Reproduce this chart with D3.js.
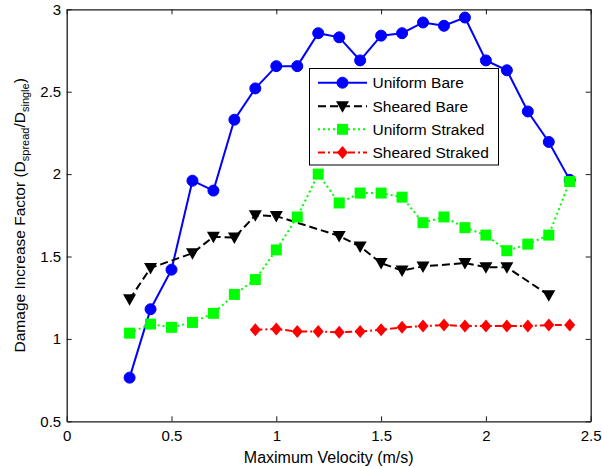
<!DOCTYPE html>
<html>
<head>
<meta charset="utf-8">
<script src="https://cdn.jsdelivr.net/npm/d3@7"></script>
<style>
  html, body { margin: 0; padding: 0; background: #fff; }
  svg text { font-family: "Liberation Sans", Arial, sans-serif; fill: #000; }
</style>
</head>
<body>
<svg id="chart" width="602" height="467"></svg>
<script>
// Damage increase factor vs. maximum velocity for four riser configurations
const xTicks = [0, 0.5, 1, 1.5, 2, 2.5];
const yTicks = [0.5, 1, 1.5, 2, 2.5, 3];

const uniformBareX = [0.3, 0.4, 0.5, 0.6, 0.7, 0.8, 0.9, 1.0, 1.1, 1.2, 1.3, 1.4, 1.5, 1.6, 1.7, 1.8, 1.9, 2.0, 2.1, 2.2, 2.3, 2.4];
const uniformBareY = [0.765, 1.18, 1.42, 1.96, 1.90, 2.33, 2.52, 2.655, 2.655, 2.855, 2.83, 2.69, 2.84, 2.855, 2.92, 2.90, 2.95, 2.69, 2.63, 2.38, 2.195, 1.965];

const shearedBareX = [0.3, 0.4, 0.6, 0.7, 0.8, 0.9, 1.0, 1.3, 1.4, 1.5, 1.6, 1.7, 1.9, 2.0, 2.1, 2.3];
const shearedBareY = [1.24, 1.43, 1.52, 1.62, 1.615, 1.75, 1.745, 1.625, 1.56, 1.46, 1.415, 1.44, 1.46, 1.435, 1.435, 1.265];

const uniformStrakedX = [0.3, 0.4, 0.5, 0.6, 0.7, 0.8, 0.9, 1.0, 1.1, 1.2, 1.3, 1.4, 1.5, 1.6, 1.7, 1.8, 1.9, 2.0, 2.1, 2.2, 2.3, 2.4];
const uniformStrakedY = [1.035, 1.09, 1.07, 1.10, 1.155, 1.27, 1.36, 1.54, 1.74, 2.0, 1.825, 1.885, 1.885, 1.86, 1.705, 1.74, 1.675, 1.63, 1.535, 1.575, 1.63, 1.955];

const shearedStrakedX = [0.9, 1.0, 1.1, 1.2, 1.3, 1.4, 1.5, 1.6, 1.7, 1.8, 1.9, 2.0, 2.1, 2.2, 2.3, 2.4];
const shearedStrakedY = [1.055, 1.06, 1.045, 1.045, 1.04, 1.045, 1.055, 1.07, 1.078, 1.084, 1.078, 1.078, 1.078, 1.078, 1.084, 1.084];

const seriesNames = ["Uniform Bare", "Sheared Bare", "Uniform Straked", "Sheared Straked"];

const series = [
  { name: seriesNames[0], xs: uniformBareX, ys: uniformBareY, color: "#0000ff", dash: null, marker: "circle" },
  { name: seriesNames[1], xs: shearedBareX, ys: shearedBareY, color: "#000000", dash: "8,4", marker: "triangle" },
  { name: seriesNames[2], xs: uniformStrakedX, ys: uniformStrakedY, color: "#00ff00", dash: "2,3", marker: "square" },
  { name: seriesNames[3], xs: shearedStrakedX, ys: shearedStrakedY, color: "#ff0000", dash: "7,3,2,3", marker: "diamond" }
];

const svg = d3.select("#chart");
const margin = { left: 66.7, right: 602 - 590.7, top: 9.3, bottom: 467 - 421.3 };
const W = 602 - margin.left - margin.right;
const H = 467 - margin.top - margin.bottom;

const x = d3.scaleLinear().domain([0, 2.5]).range([margin.left, margin.left + W]);
const y = d3.scaleLinear().domain([0.5, 3]).range([margin.top + H, margin.top]);

const tickLen = 5;
const tickFont = 15;
const labelFont = 16;
const legendFont = 15.5;

// axes with inward ticks on all four sides
const axBottom = svg.append("g").attr("transform", `translate(0,${y(0.5)})`)
  .call(d3.axisBottom(x).tickValues(xTicks).tickFormat(d3.format("")).tickSizeInner(-tickLen).tickSizeOuter(0).tickPadding(9.5));
const axTop = svg.append("g").attr("transform", `translate(0,${y(3)})`)
  .call(d3.axisTop(x).tickValues(xTicks).tickFormat("").tickSizeInner(-tickLen).tickSizeOuter(0));
const axLeft = svg.append("g").attr("transform", `translate(${x(0)},0)`)
  .call(d3.axisLeft(y).tickValues(yTicks).tickFormat(d3.format("")).tickSizeInner(-tickLen).tickSizeOuter(0).tickPadding(5.5));
const axRight = svg.append("g").attr("transform", `translate(${x(2.5)},0)`)
  .call(d3.axisRight(y).tickValues(yTicks).tickFormat("").tickSizeInner(-tickLen).tickSizeOuter(0));

[axBottom, axTop, axLeft, axRight].forEach(g => {
  g.select(".domain").attr("stroke", "#1a1a1a").attr("stroke-width", 1.3);
  g.selectAll(".tick line").attr("stroke", "#1a1a1a").attr("stroke-width", 1);
  g.selectAll(".tick text").attr("font-size", tickFont).attr("font-family", "Liberation Sans, Arial, sans-serif").attr("fill", "#000");
});

// axis titles
svg.append("text")
  .attr("x", (x(0) + x(2.5)) / 2).attr("y", 463)
  .attr("text-anchor", "middle").attr("font-size", labelFont)
  .text("Maximum Velocity (m/s)");

const ylab = svg.append("text")
  .attr("transform", `translate(25,${(y(0.5) + y(3)) / 2}) rotate(-90)`)
  .attr("text-anchor", "middle").attr("font-size", 15.5);
ylab.append("tspan").text("Damage Increase Factor (D");
ylab.append("tspan").attr("font-size", 11).attr("dy", 4).text("spread");
ylab.append("tspan").attr("dy", -4).text("/D");
ylab.append("tspan").attr("font-size", 11).attr("dy", 4).text("single");
ylab.append("tspan").attr("dy", -4).text(")");

// marker shapes
function drawMarker(g, type, color, cx, cy) {
  if (type === "circle") {
    g.append("circle").attr("cx", cx).attr("cy", cy).attr("r", 5.5).attr("fill", color).attr("stroke", color);
  } else if (type === "square") {
    g.append("rect").attr("x", cx - 5.5).attr("y", cy - 5.5).attr("width", 11).attr("height", 11).attr("fill", color);
  } else if (type === "triangle") {
    g.append("path").attr("d", `M${cx - 6.5},${cy - 5} L${cx + 6.5},${cy - 5} L${cx},${cy + 6.5} Z`).attr("fill", color);
  } else if (type === "diamond") {
    g.append("path").attr("d", `M${cx},${cy - 6.5} L${cx + 5.5},${cy} L${cx},${cy + 6.5} L${cx - 5.5},${cy} Z`).attr("fill", color);
  }
}

const line = d3.line().x(d => x(d[0])).y(d => y(d[1]));

series.forEach(s => {
  const pts = s.xs.map((v, i) => [v, s.ys[i]]);
  const g = svg.append("g");
  g.append("path").datum(pts).attr("d", line)
    .attr("fill", "none").attr("stroke", s.color).attr("stroke-width", 2)
    .attr("stroke-dasharray", s.dash);
  pts.forEach(p => drawMarker(g, s.marker, s.color, x(p[0]), y(p[1])));
});

// legend
const lg = svg.append("g");
lg.append("rect").attr("x", 309.5).attr("y", 68.5).attr("width", 189).attr("height", 96.5)
  .attr("fill", "#fff").attr("stroke", "#000").attr("stroke-width", 1);
const rowY = [82.7, 106.2, 129.3, 152.5];
series.forEach((s, i) => {
  lg.append("line").attr("x1", 318).attr("x2", 367).attr("y1", rowY[i]).attr("y2", rowY[i])
    .attr("stroke", s.color).attr("stroke-width", 2).attr("stroke-dasharray", s.dash);
  drawMarker(lg, s.marker, s.color, 342.5, rowY[i]);
  lg.append("text").attr("x", 372.5).attr("y", rowY[i] + 5.5).attr("font-size", legendFont).text(s.name);
});
</script>
</body>
</html>
